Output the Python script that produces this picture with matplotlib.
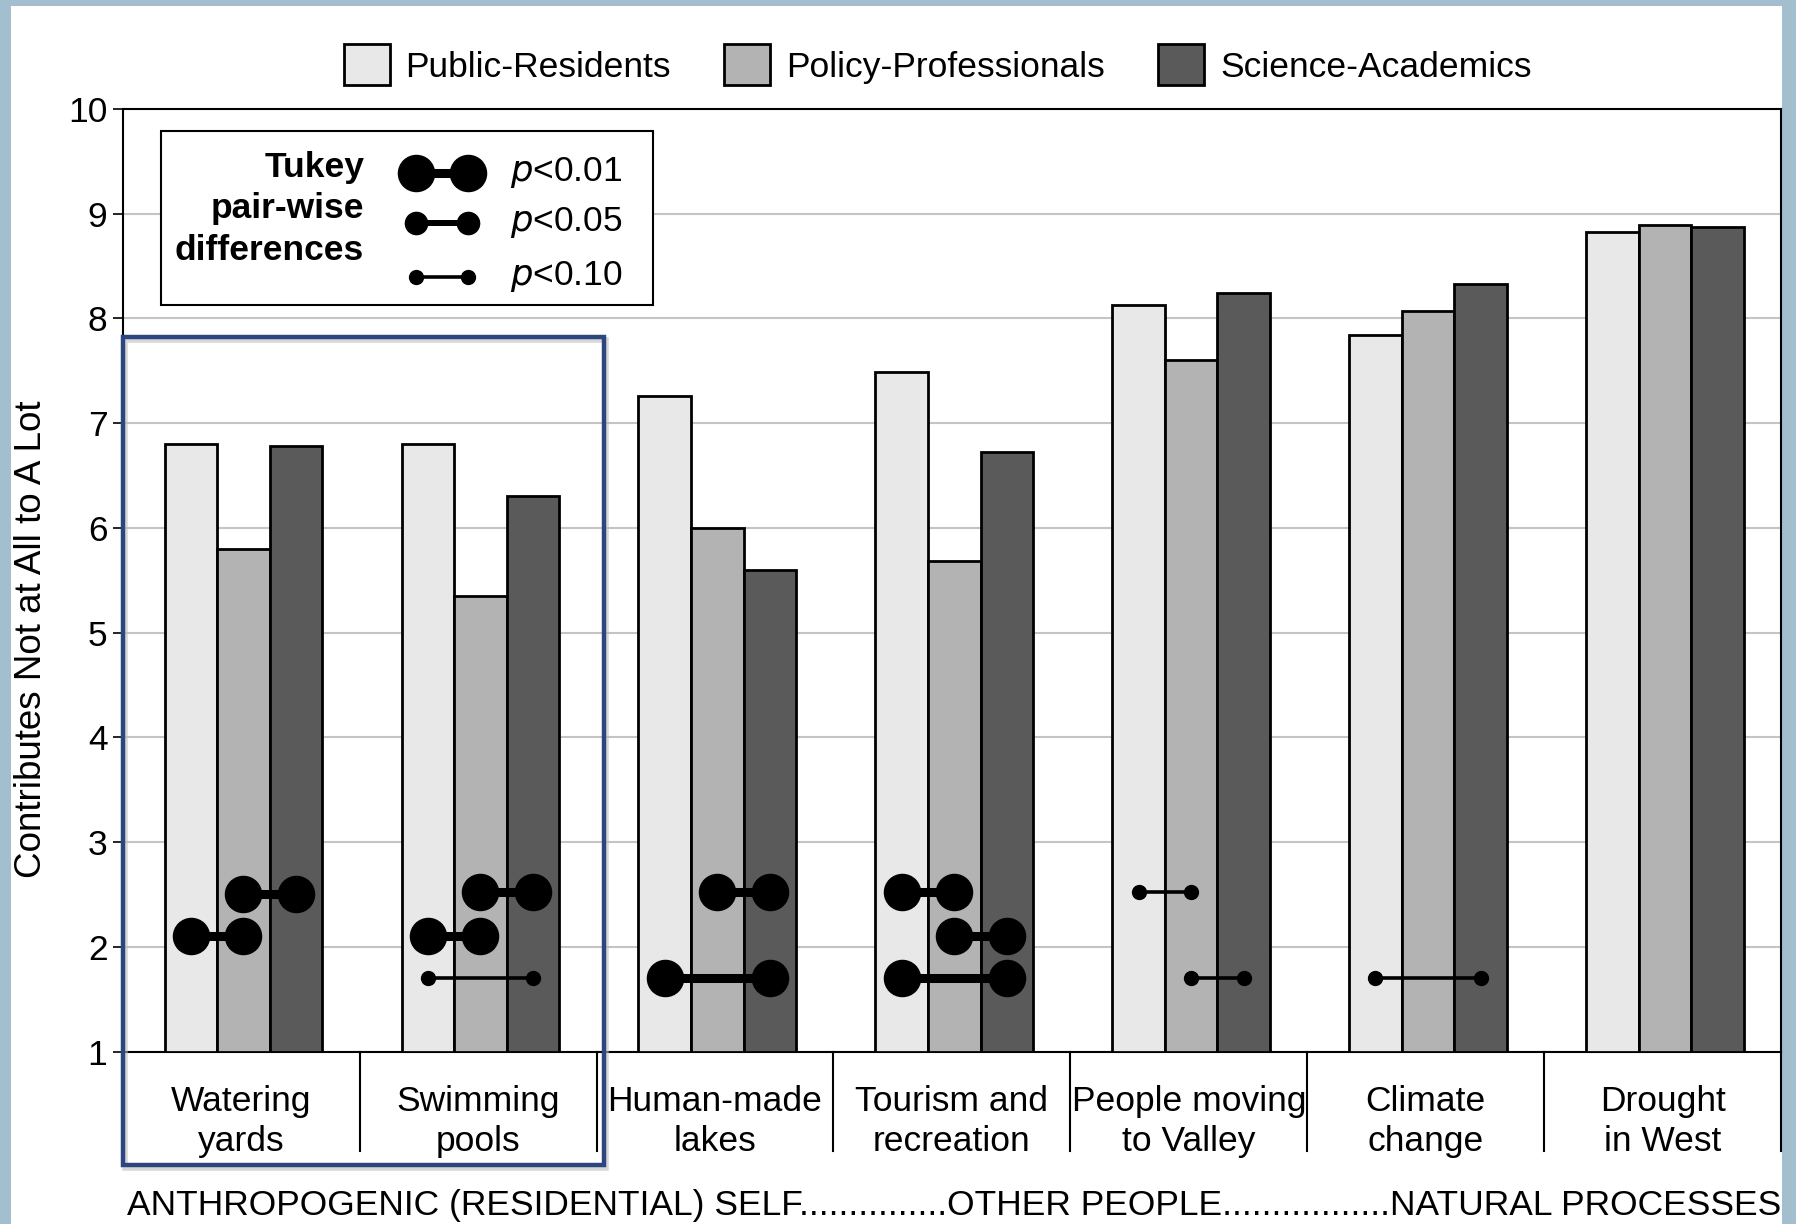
import numpy as np
import matplotlib
matplotlib.use('Agg')
import matplotlib.pyplot as plt
from matplotlib.patches import Rectangle
from matplotlib.lines import Line2D
import matplotlib.transforms as mtransforms

plt.rcParams['font.family'] = ['Liberation Sans', 'DejaVu Sans']

# mean ratings per source of water problems, three respondent groups
categories = ['Watering\nyards', 'Swimming\npools', 'Human-made\nlakes',
              'Tourism and\nrecreation', 'People moving\nto Valley',
              'Climate\nchange', 'Drought\nin West']
groups = ['Public-Residents', 'Policy-Professionals', 'Science-Academics']
public = [6.80, 6.80, 7.26, 7.49, 8.13, 7.84, 8.82]
policy = [5.80, 5.35, 6.00, 5.68, 7.60, 8.07, 8.89]
science = [6.78, 6.30, 5.60, 6.72, 8.24, 8.33, 8.87]

# Tukey pair-wise differences: category, group a, group b, height, p level
tukey_cat = [0, 0, 1, 1, 1, 2, 2, 3, 3, 3, 4, 4, 5]
tukey_a = [1, 0, 1, 0, 0, 1, 0, 0, 1, 0, 0, 1, 0]
tukey_b = [2, 1, 2, 1, 2, 2, 2, 1, 2, 2, 1, 2, 2]
tukey_y = [2.50, 2.10, 2.52, 2.10, 1.70, 2.52, 1.70, 2.52, 2.10, 1.70, 2.52, 1.70, 1.70]
tukey_p = ['0.01', '0.01', '0.01', '0.01', '0.10', '0.01', '0.01',
           '0.01', '0.01', '0.01', '0.10', '0.10', '0.10']

yticks = list(range(1, 11))

colors = ['#e8e8e8', '#b3b3b3', '#5a5a5a']
dumbbell = {'0.01': (26, 6.5), '0.05': (16, 4.3), '0.10': (10, 2.6)}
FS = 25.5

fig = plt.figure(figsize=(17.96, 12.24), dpi=100)
fig.patch.set_facecolor('#a3bfcf')
fig.patches.append(Rectangle((0.0061, 0), 0.9861, 0.995, transform=fig.transFigure,
                             facecolor='white', edgecolor='none', zorder=-10))

ax = fig.add_axes([0.0683, 0.1409, 0.9234, 0.7702])
ax.set_facecolor('white')

x = np.arange(len(categories))
w = 0.222
offsets = [-w, 0, w]
bars = []
for vals, off, c, g in zip([public, policy, science], offsets, colors, groups):
    b = ax.bar(x + off + 0.01, np.array(vals) - 1, w, bottom=1, color=c,
               edgecolor='black', linewidth=2, label=g, zorder=3)
    bars.append(b)

# significance dumbbells
for ci, a, b, yy, p in zip(tukey_cat, tukey_a, tukey_b, tukey_y, tukey_p):
    ms, lw = dumbbell[p]
    ax.plot([ci + offsets[a] + 0.01, ci + offsets[b] + 0.01], [yy, yy], color='black',
            lw=lw, marker='o', ms=ms, solid_capstyle='butt', zorder=5)

ax.set_xlim(-0.5, 6.5)
ax.set_ylim(1, 10)
ax.set_yticks(yticks)
ax.set_yticklabels([str(t) for t in yticks], fontsize=FS)
ax.tick_params(axis='y', length=7, width=1.2, pad=4, direction='out')
ax.set_xticks([])
ax.yaxis.grid(True, color='#c4c4c4', lw=1.5, zorder=0)
ax.set_axisbelow(True)
for s in ax.spines.values():
    s.set_linewidth(1.5)
    s.set_color('black')

# category label cells under the axis
trans = mtransforms.blended_transform_factory(ax.transData, ax.transAxes)
for xs in np.arange(-0.5, 7.0, 1.0):
    ax.add_line(Line2D([xs, xs], [0, -0.1056], transform=trans, color='black',
                       lw=1.5, clip_on=False))
for xi, lab in zip(x, categories):
    ax.text(xi, -0.074, lab, transform=trans, ha='center', va='center',
            fontsize=FS, linespacing=1.25)

fig.text(0.0173, 0.478, 'Contributes Not at All to A Lot', rotation=90,
         ha='center', va='center', fontsize=26.5)

fig.text(0.5315, 0.0155,
         'ANTHROPOGENIC (RESIDENTIAL) SELF' + '.' * 15 + 'OTHER PEOPLE' + '.' * 17
         + 'NATURAL PROCESSES', ha='center', va='center', fontsize=FS)

# group legend across the top
fig.legend(handles=bars, labels=groups, loc='center', bbox_to_anchor=(0.522, 0.947),
           ncol=3, frameon=False, fontsize=FS, handlelength=1.3, handleheight=1.4,
           handletextpad=0.45, columnspacing=1.5)

# Tukey key box
ax.add_patch(Rectangle((0.0232, 0.792), 0.2966, 0.1845, transform=ax.transAxes,
                       facecolor='white', edgecolor='black', lw=1.5, zorder=6))
ax.text(0.1456, 0.894, 'Tukey\npair-wise\ndifferences', transform=ax.transAxes,
        ha='right', va='center', fontsize=FS, fontweight='bold', linespacing=1.32,
        zorder=7)
for p, yk in zip(['0.01', '0.05', '0.10'], [0.932, 0.879, 0.822]):
    ms, lw = dumbbell[p]
    ax.add_line(Line2D([0.177, 0.2085], [yk, yk], transform=ax.transAxes,
                       color='black', lw=lw, marker='o', ms=ms,
                       solid_capstyle='butt', zorder=7))
    ax.text(0.2334, yk, r'$p$' + '<' + p, transform=ax.transAxes, ha='left',
            va='center', fontsize=FS, zorder=7)

# highlight around the residential sources
fig.patches.append(Rectangle((0.0698, 0.0455), 0.2678, 0.6767, transform=fig.transFigure,
                             fill=False, edgecolor='#bdbdbd', lw=4, alpha=0.6, zorder=9))
fig.patches.append(Rectangle((0.0683, 0.0482), 0.2678, 0.6767, transform=fig.transFigure,
                             fill=False, edgecolor='#2d4680', lw=3.2, zorder=10))

fig.savefig('out.png', dpi=100, facecolor=fig.get_facecolor())
